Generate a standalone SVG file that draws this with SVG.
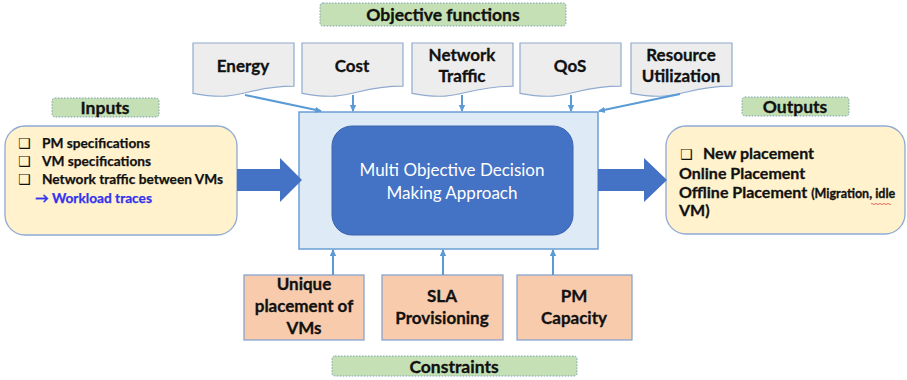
<svg xmlns="http://www.w3.org/2000/svg" xmlns:xlink="http://www.w3.org/1999/xlink" width="907" height="380" viewBox="0 0 907 380">
<style>
.lbl{fill:#C5E0B4;stroke:#7F9FB8;stroke-width:1;stroke-dasharray:1.5 1.5}
.lt{font-family:Lato,"Liberation Sans",sans-serif;font-weight:bold;font-size:17.5px;fill:#111;stroke:#111;stroke-width:0.3;text-anchor:middle}
.doc{fill:#EDEDED;stroke:#8FAAD0;stroke-width:1.2}
.dt{font-family:Lato,"Liberation Sans",sans-serif;font-weight:bold;font-size:17px;fill:#111;stroke:#111;stroke-width:0.3;text-anchor:middle}
.con{fill:#F8CBAD;stroke:#7F9FCF;stroke-width:1.2}
.io{fill:#FFF2CC;stroke:#8EA9D6;stroke-width:1.3}
.it{font-family:Lato,"Liberation Sans",sans-serif;font-weight:bold;font-size:13.7px;fill:#111;stroke:#111;stroke-width:0.25}
.ot{font-family:Lato,"Liberation Sans",sans-serif;font-weight:bold;font-size:16px;fill:#111;stroke:#111;stroke-width:0.3}
.cb{font-family:"DejaVu Sans",sans-serif;font-size:14px;fill:#111}
.ln{stroke:#5B9BD5;stroke-width:2;fill:none}
.big{fill:#4472C4}
</style>
<defs>
<path id="docshape" d="M0,0 H101 V43.2 C50.5,43.2 50.5,59.8 0,50.4 Z"/>
<marker id="ah" markerWidth="8" markerHeight="8" refX="6" refY="4" orient="auto" markerUnits="userSpaceOnUse">
<path d="M0,0.8 L7,4 L0,7.2 Z" fill="#5B9BD5"/>
</marker>
</defs>

<g id="label-objective"><rect class="lbl" x="320" y="3" width="246" height="23" rx="3"/><text class="lt" x="443" y="20.5">Objective functions</text></g>
<g id="label-inputs"><rect class="lbl" x="52" y="98" width="107" height="19" rx="3"/><text class="lt" x="105" y="113.5">Inputs</text></g>
<g id="label-outputs"><rect class="lbl" x="742" y="97" width="107" height="19" rx="3"/><text class="lt" x="795" y="112.5">Outputs</text></g>
<g id="label-constraints"><rect class="lbl" x="332" y="356" width="245" height="20" rx="3"/><text class="lt" x="454" y="372.5">Constraints</text></g>

<g id="energy"><use xlink:href="#docshape" class="doc" x="193" y="43"/><text class="dt" x="243" y="72">Energy</text></g>
<g id="cost"><use xlink:href="#docshape" class="doc" x="302" y="43"/><text class="dt" x="352" y="72">Cost</text></g>
<g id="network"><use xlink:href="#docshape" class="doc" x="412" y="43"/><text class="dt" x="462" y="61">Network</text><text class="dt" x="462" y="82">Traffic</text></g>
<g id="qos"><use xlink:href="#docshape" class="doc" x="520" y="43"/><text class="dt" x="570" y="72">QoS</text></g>
<g id="resource"><use xlink:href="#docshape" class="doc" x="631" y="43"/><text class="dt" x="681" y="61">Resource</text><text class="dt" x="681" y="82">Utilization</text></g>

<g id="main">
<rect x="299" y="112" width="299" height="137" fill="#DEEBF7" stroke="#6A9FD6" stroke-width="1.5"/>
<rect x="332" y="126" width="241" height="109" rx="20" fill="#4472C4" stroke="#3B64AE" stroke-width="1"/>
<text x="452" y="176" font-family="Lato,'Liberation Sans',sans-serif" font-size="17" fill="#FFFFFF" text-anchor="middle">Multi Objective Decision</text>
<text x="452" y="199" font-family="Lato,'Liberation Sans',sans-serif" font-size="17" fill="#FFFFFF" text-anchor="middle">Making Approach</text>
</g>

<g id="inputs">
<rect class="io" x="5" y="126" width="232" height="109" rx="20"/>
<text class="cb" x="18" y="148">❑</text><text class="it" x="42" y="148">PM specifications</text>
<text class="cb" x="18" y="166">❑</text><text class="it" x="42" y="166">VM specifications</text>
<text class="cb" x="18" y="184">❑</text><text class="it" x="42" y="184">Network traffic between VMs</text>
<text class="it" x="35" y="203" style="fill:#3333EE;stroke:#3333EE">→ Workload traces</text>
</g>

<g id="outputs">
<rect class="io" x="666" y="126" width="239" height="108" rx="20"/>
<text class="cb" x="680" y="159" font-size="15">❑</text><text class="ot" x="703" y="159">New placement</text>
<text class="ot" x="679" y="179">Online Placement</text>
<text class="ot" x="679" y="198">Offline Placement <tspan font-size="12.5">(Migration, idle</tspan></text>
<text class="ot" x="679" y="216" font-size="12.5">VM)</text>
<path d="M871,204 q1,-1.2 2,0 t2,0 t2,0 t2,0 t2,0 t2,0 t2,0 t2,0 t2,0 t2,0" stroke="#E03030" stroke-width="0.7" fill="none"/>
</g>

<g id="unique"><rect class="con" x="244" y="275" width="120" height="65"/><text class="dt" x="304" y="290">Unique</text><text class="dt" x="304" y="312">placement of</text><text class="dt" x="304" y="334">VMs</text></g>
<g id="sla"><rect class="con" x="382" y="275" width="121" height="65"/><text class="dt" x="442" y="302">SLA</text><text class="dt" x="442" y="324">Provisioning</text></g>
<g id="pm"><rect class="con" x="517" y="275" width="115" height="65"/><text class="dt" x="574" y="302">PM</text><text class="dt" x="574" y="324">Capacity</text></g>

<g id="connectors">
<line class="ln" x1="245" y1="95" x2="321" y2="111" marker-end="url(#ah)"/>
<line class="ln" x1="353" y1="95" x2="353" y2="111" marker-end="url(#ah)"/>
<line class="ln" x1="462" y1="95" x2="462" y2="111" marker-end="url(#ah)"/>
<line class="ln" x1="571" y1="95" x2="571" y2="111" marker-end="url(#ah)"/>
<line class="ln" x1="680" y1="94" x2="599" y2="111" marker-end="url(#ah)"/>
<line class="ln" x1="333" y1="275" x2="333" y2="250" marker-end="url(#ah)"/>
<line class="ln" x1="443" y1="275" x2="443" y2="250" marker-end="url(#ah)"/>
<line class="ln" x1="553" y1="275" x2="553" y2="250" marker-end="url(#ah)"/>
<path class="big" d="M237,169 H280 V158 L302,180 L280,202 V191 H237 Z"/>
<path class="big" d="M598,169 H644 V158 L667,180 L644,202 V191 H598 Z"/>
</g>
</svg>
